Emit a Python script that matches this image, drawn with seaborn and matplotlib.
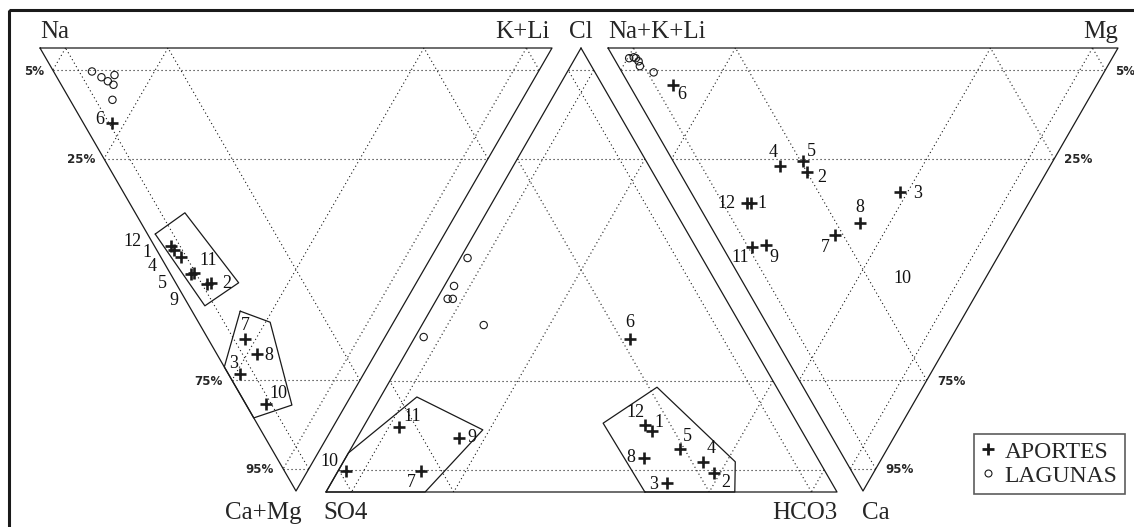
import matplotlib
matplotlib.use("Agg")
from matplotlib import pyplot as plt
from matplotlib.lines import Line2D
from matplotlib.patches import Rectangle
import seaborn as sns
import pandas as pd
import numpy as np

# ---- data (% meq) -------------------------------------------------------
SAMPLES = ["1", "2", "3", "4", "5", "6", "7", "8", "9", "10", "11", "12"]
NA = [51.0, 40.0, 24.1, 49.0, 45.1, 77.4, 27.1, 23.1, 40.7, 15.6, 44.6, 52.1]
K_LI = [3.5, 6.9, 2.3, 3.9, 3.9, 5.7, 7.2, 7.8, 6.1, 4.0, 4.7, 3.2]
CA = [35.0, 28.0, 32.5, 26.6, 25.5, 8.4, 42.2, 39.5, 44.5, 53.0, 44.9, 35.0]
MG = [10.5, 25.1, 41.1, 20.5, 25.5, 8.5, 23.5, 29.6, 8.7, 27.4, 5.8, 9.7]
CL = [13.7, 4.3, 2.0, 6.8, 9.7, 34.5, 4.7, 7.7, 12.2, 4.7, 14.6, 15.1]
HCO3 = [56.9, 73.8, 65.7, 70.4, 64.4, 42.3, 16.2, 58.4, 19.9, 1.5, 7.0, 54.9]

LAG_NA = [87.2, 82.4, 84.7, 83.0, 81.5, 80.0]
LAG_K_LI = [7.5, 11.5, 8.7, 9.5, 10.2, 8.3]
LAG_CA = [2.3, 2.1, 2.3, 3.0, 4.1, 5.5]
LAG_MG = [3.0, 4.0, 4.3, 4.5, 4.2, 6.2]
LAG_CL = [52.7, 46.4, 43.5, 43.5, 37.6, 34.9]
LAG_HCO3 = [1.4, 1.9, 2.1, 3.1, 12.1, 1.7]

# envelopes drawn round the groups (K+Li %, Ca+Mg %) and (Cl %, HCO3 %)
ENV_CAT_A = [(1.5, 42.0), (9.7, 37.2), (12.3, 53.0), (3.1, 58.2)]
ENV_CAT_B = [(9.4, 59.4), (14.0, 61.9), (8.9, 80.6), (0.0, 83.5), (0.0, 72.0)]
ENV_AN_A = [(0.0, 0.0), (8.8, 0.0), (21.4, 7.1), (14.0, 23.7), (0.0, 19.4)]
ENV_AN_B = [(0.0, 62.4), (15.5, 46.5), (23.6, 53.0), (6.8, 76.7), (0.0, 80.0)]

PCT = [5, 25, 75, 95]

# ---- layout -------------------------------------------------------------
LEFT = np.array([[40, 48], [552, 48], [296, 491]], float)     # Na, K+Li, Ca+Mg
MID = np.array([[581, 48], [326, 492], [837, 492]], float)    # Cl, SO4, HCO3
RIGHT = np.array([[608, 48], [1118, 48], [863, 491]], float)  # Na+K+Li, Mg, Ca

OFF_LEFT = [(-27, 3), (15, 0), (-7, -11), (-28, 10), (-28, 10), (-13, -3),
            (0, -14), (12, 1), (-34, 17), (12, -11), (14, -12), (-38, -5)]
OFF_MID = [(7, -9), (12, 10), (-13, 1), (8, -13), (8, -12), (0, -16),
           (-9, 11), (-13, 0), (13, 0), (-16, -10), (13, -11), (-10, -12)]
OFF_RIGHT = [(11, 0), (14, 5), (17, 2), (-7, -13), (8, -9), (9, 9),
             (-10, 13), (0, -15), (8, 12), (20, -4), (-12, 11), (-20, 0)]
NO_MARK_RIGHT = ["10"]

SERIF = "Liberation Serif"


def bary(verts, a, b, c):
    a, b, c = (np.asarray(v, float) / 100.0 for v in (a, b, c))
    x = a * verts[0, 0] + b * verts[1, 0] + c * verts[2, 0]
    y = a * verts[0, 1] + b * verts[1, 1] + c * verts[2, 1]
    return x, y


def draw_triangle(ax, verts):
    pts = np.vstack([verts, verts[:1]])
    ax.plot(pts[:, 0], pts[:, 1], color="k", lw=0.9, zorder=3)
    for p in PCT:
        v = p / 100.0
        for i in range(3):
            P, Q, R = verts[i], verts[(i + 1) % 3], verts[(i + 2) % 3]
            p1 = v * P + (1 - v) * Q
            p2 = v * P + (1 - v) * R
            ax.plot([p1[0], p2[0]], [p1[1], p2[1]], color="k", lw=0.8,
                    ls=(0, (1, 2.6)), zorder=2)


def draw_env(ax, pts):
    pts = list(pts) + [pts[0]]
    xs, ys = zip(*pts)
    ax.plot(xs, ys, color="k", lw=0.9, zorder=3)


def main():
    sns.set_theme(style="white")
    plt.rcParams["font.family"] = [SERIF, "DejaVu Serif"]

    fig = plt.figure(figsize=(11.34, 5.27), dpi=100)
    ax = fig.add_axes([0, 0, 1, 1])
    ax.set_xlim(0, 1134)
    ax.set_ylim(527, 0)
    ax.axis("off")

    for verts in (LEFT, MID, RIGHT):
        draw_triangle(ax, verts)

    ca_mg = np.array(CA) + np.array(MG)
    so4 = 100 - np.array(CL) - np.array(HCO3)
    alk = np.array(NA) + np.array(K_LI)

    lx, ly = bary(LEFT, NA, K_LI, ca_mg)
    mx, my = bary(MID, CL, so4, HCO3)
    rx, ry = bary(RIGHT, alk, MG, CA)

    ap = pd.DataFrame({"x": np.concatenate([lx, mx, rx]),
                       "y": np.concatenate([ly, my, ry]),
                       "sample": SAMPLES * 3,
                       "panel": ["L"] * 12 + ["M"] * 12 + ["R"] * 12})
    shown = ap[~((ap["panel"] == "R") & ap["sample"].isin(NO_MARK_RIGHT))]
    sns.scatterplot(data=shown, x="x", y="y", marker="+", s=80, color="k",
                    linewidth=1.9, legend=False, ax=ax, zorder=5)

    l_camg = np.array(LAG_CA) + np.array(LAG_MG)
    l_so4 = 100 - np.array(LAG_CL) - np.array(LAG_HCO3)
    l_alk = np.array(LAG_NA) + np.array(LAG_K_LI)
    a1 = bary(LEFT, LAG_NA, LAG_K_LI, l_camg)
    a2 = bary(MID, LAG_CL, l_so4, LAG_HCO3)
    a3 = bary(RIGHT, l_alk, LAG_MG, LAG_CA)
    lag = pd.DataFrame({"x": np.concatenate([a1[0], a2[0], a3[0]]),
                        "y": np.concatenate([a1[1], a2[1], a3[1]])})
    sns.scatterplot(data=lag, x="x", y="y", marker="o", s=28,
                    facecolors="none", edgecolors="k", linewidth=0.8,
                    legend=False, ax=ax, zorder=5)

    # sample numbers
    for offs, xs, ys in ((OFF_LEFT, lx, ly), (OFF_MID, mx, my),
                         (OFF_RIGHT, rx, ry)):
        for lab, (dx, dy), x, y in zip(SAMPLES, offs, xs, ys):
            ax.text(x + dx, y + dy, lab, fontsize=13, ha="center",
                    va="center", color="#111111", zorder=6)

    # envelopes
    for env in (ENV_CAT_A, ENV_CAT_B):
        k, c = zip(*env)
        na = 100 - np.array(k) - np.array(c)
        ex, ey = bary(LEFT, na, k, c)
        draw_env(ax, list(zip(ex, ey)))
    for env in (ENV_AN_A, ENV_AN_B):
        cl, h = zip(*env)
        s = 100 - np.array(cl) - np.array(h)
        ex, ey = bary(MID, cl, s, h)
        draw_env(ax, list(zip(ex, ey)))

    # percentage labels
    for p in PCT:
        v = p / 100.0
        y = LEFT[0, 1] + v * (LEFT[2, 1] - LEFT[0, 1])
        xl = LEFT[0, 0] + v * (LEFT[2, 0] - LEFT[0, 0])
        xr = RIGHT[1, 0] + v * (RIGHT[2, 0] - RIGHT[1, 0])
        for x, ha in ((xl - 9, "right"), (xr + 10, "left")):
            ax.text(x, y + 1, f"{p}%", fontsize=8.6, fontweight="bold",
                    family="DejaVu Sans", ha=ha, va="center")

    # vertex names
    top = 38
    bot = 519
    ax.text(LEFT[0, 0], top, "Na", fontsize=18, ha="left", va="baseline")
    ax.text(LEFT[1, 0] - 2, top, "K+Li", fontsize=18, ha="right", va="baseline")
    ax.text(MID[0, 0], top, "Cl", fontsize=18, ha="center", va="baseline")
    ax.text(RIGHT[0, 0], top, "Na+K+Li", fontsize=18, ha="left", va="baseline")
    ax.text(RIGHT[1, 0], top, "Mg", fontsize=18, ha="right", va="baseline")
    ax.text(LEFT[2, 0] + 6, bot, "Ca+Mg", fontsize=18, ha="right", va="baseline")
    ax.text(MID[1, 0] - 3, bot, "SO4", fontsize=18, ha="left", va="baseline")
    ax.text(MID[2, 0], bot, "HCO3", fontsize=18, ha="right", va="baseline")
    ax.text(RIGHT[2, 0] - 1, bot, "Ca", fontsize=18, ha="left", va="baseline")

    # frame
    ax.add_patch(Rectangle((8.5, 10), 1200, 600, fill=False, ec="k",
                           lw=2.2, zorder=10))

    handles = [
        Line2D([], [], ls="", marker="+", color="k", ms=8, mew=2,
               label="APORTES"),
        Line2D([], [], ls="", marker="o", mfc="none", mec="k", ms=5,
               mew=0.8, label="LAGUNAS"),
    ]
    leg = ax.legend(handles=handles, loc="upper left",
                    bbox_to_anchor=(974, 434), bbox_transform=ax.transData,
                    frameon=True, fancybox=False, prop={"size": 17},
                    handlelength=0.6, handletextpad=0.4, borderpad=0.3,
                    labelspacing=0.1, borderaxespad=0)
    leg.get_frame().set_edgecolor("#333333")
    leg.get_frame().set_linewidth(1.2)

    fig.savefig("out.png", dpi=100)


if __name__ == "__main__":
    main()
